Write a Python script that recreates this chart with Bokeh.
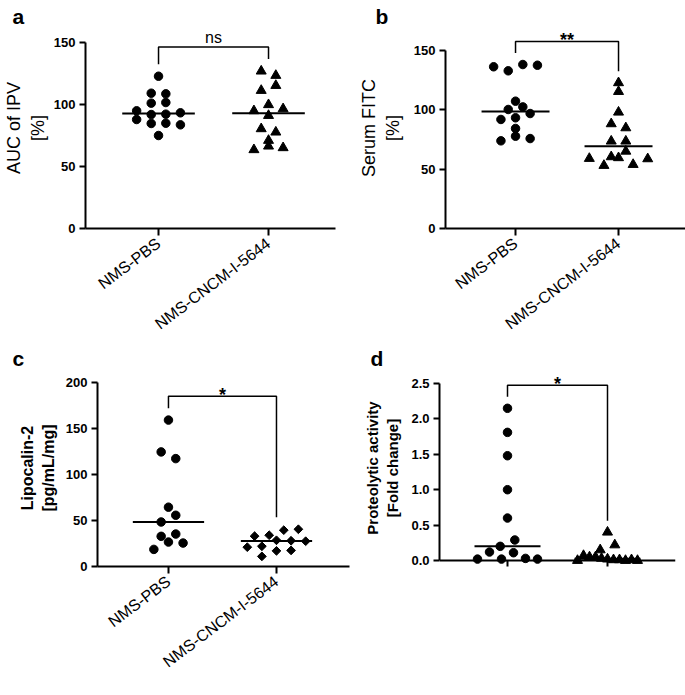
import numpy as np
from math import pi
from bokeh.plotting import figure
from bokeh.layouts import column, row
from bokeh.models import Range1d, FixedTicker, NumeralTickFormatter
from bokeh.core.properties import value
from bokeh.embed import file_html
from bokeh.resources import INLINE

# ---------------- data ----------------
groups = ["NMS-PBS", "NMS-CNCM-I-5644"]

# a: AUC of IPV [%]
a_pbs = [75.0, 87.9, 84.7, 84.9, 83.6, 94.9, 91.9, 92.2, 93.3, 101.1, 101.6, 109.1, 108.6, 122.8]
a_cncm = [63.5, 66.4, 65.1, 71.0, 80.4, 77.7, 94.9, 91.1, 96.5, 99.8, 111.3, 115.3, 126.9, 123.4]
a_ticks = [0, 50, 100, 150]
a_sig = "ns"
a_ylabel = "AUC of IPV\n[%]"

# b: Serum FITC [%]
b_pbs = [73.9, 77.8, 75.8, 84.3, 91.9, 93.3, 96.9, 100.3, 102.5, 107.3, 136.3, 132.9, 138.2, 137.6]
b_cncm = [59.0, 53.1, 60.4, 59.6, 53.9, 65.1, 58.7, 73.6, 73.6, 88.2, 84.8, 98.0, 115.4, 122.8]
b_ticks = [0, 50, 100, 150]
b_sig = "**"
b_ylabel = "Serum FITC\n[%]"

# c: Lipocalin-2 [pg/mL/mg]
c_pbs = [18.6, 26.6, 25.5, 32.8, 35.3, 48.4, 55.7, 64.5, 124.6, 117.3, 159.2]
c_cncm = [11.0, 17.0, 17.5, 21.0, 22.0, 28.5, 28.0, 27.5, 33.0, 34.0, 39.5, 40.5]
c_ticks = [0, 50, 100, 150, 200]
c_sig = "*"
c_ylabel = "Lipocalin-2\n[pg/mL/mg]"

# d: Proteolytic activity [Fold change]
d_pbs = [0.02, 0.12, 0.02, 0.11, 0.03, 0.02, 0.20, 0.29, 0.60, 1.00, 1.48, 1.81, 2.15]
d_cncm = [0.00, 0.07, 0.05, 0.05, 0.03, 0.02, 0.01, 0.01, 0.00, 0.01, 0.00, 0.15, 0.22, 0.40]
d_ticks = [0.0, 0.5, 1.0, 1.5, 2.0, 2.5]
d_sig = "*"
d_ylabel = "Proteolytic activity\n[Fold change]"

FONT = "Liberation Sans"


def swarm(vals, ypx, xpx, thresh_px=8.0, step_px=14.6, max_span=0.6):
    """Column-scatter layout: points close in value share a centred row."""
    v = np.asarray(vals, float)
    order = np.argsort(v, kind="stable")
    rows, cur, start = [], [order[0]], v[order[0]]
    for i in order[1:]:
        if (v[i] - start) * ypx <= thresh_px:
            cur.append(i)
        else:
            rows.append(cur)
            cur, start = [i], v[i]
    rows.append(cur)
    off = np.zeros(len(v))
    step = step_px / xpx
    for r in rows:
        r = sorted(r)
        n = len(r)
        s = step if (n - 1) * step <= max_span else max_span / (n - 1)
        for k, i in enumerate(r):
            off[i] = (k - (n - 1) / 2) * s
    return off


def panel(letter, pbs, cncm, ticks, sig, ylabel, cfg):
    x0, x1 = cfg["xr"]
    y0, y1 = cfg["yr"]
    p = figure(x_range=Range1d(x0, x1), y_range=Range1d(y0, y1),
               frame_width=cfg["fw"], frame_height=cfg["fh"],
               min_border_left=cfg["mb"][0], min_border_right=cfg["mb"][1],
               min_border_top=cfg["mb"][2], min_border_bottom=cfg["mb"][3],
               output_backend="svg", toolbar_location=None, tools="")
    p.outline_line_color = None
    p.xgrid.visible = False
    p.ygrid.visible = False
    p.background_fill_color = "white"
    p.border_fill_color = "white"

    # panel letter as title
    p.title.text = letter
    p.title.align = "left"
    p.title.offset = cfg["lt"]
    p.title.standoff = 0
    p.title.text_font = FONT
    p.title.text_font_size = "21px"
    p.title.text_font_style = "bold"
    p.title.text_color = "black"

    xpx = cfg["fw"] / (x1 - x0)
    ypx = cfg["fh"] / (y1 - y0)

    for k, vals in enumerate([pbs, cncm]):
        cx = k + 1
        off = swarm(vals, ypx, xpx)
        mk = "circle" if k == 0 else cfg["m2"]
        if mk == "circle":
            p.scatter(x=cx + off, y=vals, marker="circle", size=8.5, color="black")
        elif mk == "triangle":
            p.scatter(x=cx + off, y=vals, marker="triangle", size=10, color="black")
        else:
            p.scatter(x=cx + off, y=vals, marker="square", angle=pi / 4, size=6.2, color="black")
        med = float(np.median(vals))
        p.segment(x0=[cx - 0.33], x1=[cx + 0.33], y0=[med], y1=[med],
                  line_width=2, line_color="black")

    # significance bracket
    pad = 0.065 * ticks[-1]
    l1 = max(pbs) + pad
    l2 = max(cncm) + pad
    top = max(max(pbs), max(cncm)) + 2 * pad
    p.line(x=[1, 1, 2, 2], y=[l1, top, top, l2], line_width=1.5, line_color="black")
    if sig == "ns":
        p.text(x=[1.5], y=[top + 9 / ypx], text=[sig], text_align="center",
               text_baseline="alphabetic", text_font=value(FONT), text_font_size="16px",
               text_color="black")
    else:
        p.text(x=[1.5], y=[top + 1 / ypx], text=[sig], text_align="center",
               text_baseline="alphabetic", text_font=value(FONT), text_font_size="18px",
               text_font_style="bold", text_color="black")

    # axes
    xa = p.xaxis[0]
    xa.ticker = FixedTicker(ticks=[1, 2])
    xa.major_label_overrides = {1: groups[0], 2: groups[1]}
    xa.major_label_orientation = 0.646
    xa.major_label_text_font = FONT
    xa.major_label_text_font_size = "16px"
    xa.major_label_text_color = "black"
    xa.major_tick_out = 7
    xa.major_tick_in = 0
    xa.minor_tick_line_color = None
    xa.axis_line_width = 2
    xa.major_tick_line_width = 2
    xa.major_label_standoff = 6
    if y0 < 0:
        xa.fixed_location = 0

    ya = p.yaxis[0]
    ya.ticker = FixedTicker(ticks=ticks)
    ya.bounds = (ticks[0], ticks[-1])
    ya.major_label_text_font = FONT
    ya.major_label_text_font_style = "bold"
    ya.major_label_text_font_size = "13px"
    ya.major_label_text_color = "black"
    ya.major_tick_out = 6
    ya.major_tick_in = 0
    ya.minor_tick_line_color = None
    ya.axis_line_width = 2
    ya.major_tick_line_width = 2
    ya.major_label_standoff = 4
    if cfg.get("fmt"):
        ya.formatter = NumeralTickFormatter(format=cfg["fmt"])
    ya.axis_label = ylabel
    ya.axis_label_text_font = FONT
    ya.axis_label_text_font_size = cfg["ylfs"]
    ya.axis_label_text_font_style = cfg["ylst"]
    ya.axis_label_text_color = "black"
    ya.axis_label_standoff = cfg["yls"]
    return p


cfg_a = dict(xr=(0.336, 2.609), yr=(0, 162.1), fw=250, fh=201, mb=(80, 13, 27, 114),
             m2="triangle", ylfs="18px", ylst="normal", yls=3, lt=-73)
cfg_b = dict(xr=(0.32, 2.66), yr=(0, 169.4), fw=241, fh=201, mb=(97, 2, 27, 114),
             m2="triangle", ylfs="18px", ylst="normal", yls=8, lt=-70)
cfg_c = dict(xr=(0.343, 2.676), yr=(0, 214.2), fw=252, fh=197, mb=(97, 1, 27, 126),
             m2="diamond", ylfs="16px", ylst="bold", yls=6, lt=-85)
cfg_d = dict(xr=(0.32, 2.68), yr=(-0.0845, 2.698), fw=236, fh=197, mb=(89, 2, 27, 126),
             m2="triangle", ylfs="15px", ylst="bold", yls=7, lt=-69, fmt="0.0")

pa = panel("a", a_pbs, a_cncm, a_ticks, a_sig, a_ylabel, cfg_a)
pb = panel("b", b_pbs, b_cncm, b_ticks, b_sig, b_ylabel, cfg_b)
pc = panel("c", c_pbs, c_cncm, c_ticks, c_sig, c_ylabel, cfg_c)
pd = panel("d", d_pbs, d_cncm, d_ticks, d_sig, d_ylabel, cfg_d)

layout = column(row(pa, pb), row(pc, pd))
open("out.html", "w").write(file_html(layout, INLINE))
